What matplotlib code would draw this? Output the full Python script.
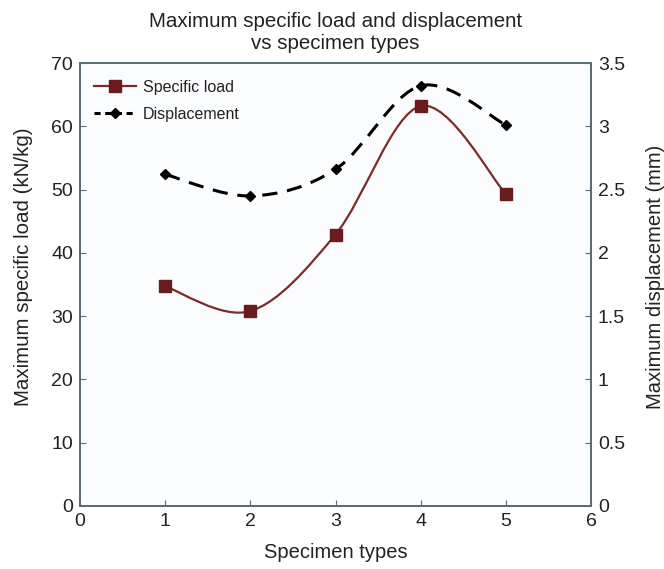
import matplotlib.pyplot as plt
from matplotlib.path import Path
from matplotlib.patches import PathPatch
from matplotlib.lines import Line2D
import numpy as np

plt.rcParams['font.family'] = ['Liberation Sans', 'DejaVu Sans']

specimen = [1, 2, 3, 4, 5]
specific_load = [34.7, 30.8, 42.9, 63.2, 49.3]
displacement = [2.62, 2.45, 2.66, 3.32, 3.01]

load_color = '#7b2b2b'
load_marker = '#6a1c1c'
spine_color = '#5c6a72'


def smooth_path(x, y, t=1 / 6.0):
    # cubic bezier through the points, catmull-rom style control points
    x = np.asarray(x, float)
    y = np.asarray(y, float)
    verts = [(x[0], y[0])]
    codes = [Path.MOVETO]
    n = len(x)
    for i in range(n - 1):
        i0 = max(i - 1, 0)
        i3 = min(i + 2, n - 1)
        c1 = (x[i] + (x[i + 1] - x[i0]) * t, y[i] + (y[i + 1] - y[i0]) * t)
        c2 = (x[i + 1] - (x[i3] - x[i]) * t, y[i + 1] - (y[i3] - y[i]) * t)
        verts += [c1, c2, (x[i + 1], y[i + 1])]
        codes += [Path.CURVE4] * 3
    return Path(verts, codes)


fig = plt.figure(figsize=(6.64, 5.69), dpi=100)
ax = fig.add_axes([80 / 664, 63 / 569, 511 / 664, 443 / 569])
ax.set_facecolor('#fbfcfe')
ax2 = ax.twinx()

ax.add_patch(PathPatch(smooth_path(specimen, specific_load), facecolor='none',
                       edgecolor=load_color, lw=1.6, zorder=3))
ax.plot(specimen, specific_load, ls='none', marker='s', ms=8, color=load_marker, zorder=4)

ax2.add_patch(PathPatch(smooth_path(specimen, displacement), facecolor='none',
                        edgecolor='black', lw=2.2, ls=(0, (5, 3.2)), zorder=3))
ax2.plot(specimen, displacement, ls='none', marker='D', ms=5.5, color='black', zorder=4)

ax.set_xlim(0, 6)
ax.set_ylim(0, 70)
ax2.set_ylim(0, 3.5)
ax.set_xticks(range(0, 7))
ax.set_yticks(range(0, 71, 10))
ax2.set_yticks([0, 0.5, 1, 1.5, 2, 2.5, 3, 3.5])
ax2.set_yticklabels(['0', '0.5', '1', '1.5', '2', '2.5', '3', '3.5'])

for a in (ax, ax2):
    for s in a.spines.values():
        s.set_color(spine_color)
        s.set_linewidth(1.3)
    a.tick_params(direction='in', length=4, color=spine_color, labelsize=14, pad=5,
                  labelcolor='#222222')

ax.set_xlabel('Specimen types', fontsize=14.5, color='#222222')
ax.xaxis.set_label_coords(0.5, -0.084)
ax.set_ylabel('Maximum specific load (kN/kg)', fontsize=14.8, color='#222222')
ax.yaxis.set_label_coords(-0.092, 0.54)
ax2.set_ylabel('Maximum displacement (mm)', fontsize=14.5, rotation=90, color='#222222')
ax2.yaxis.set_label_coords(1.108, 0.517)
ax.set_title('Maximum specific load and displacement\nvs specimen types', fontsize=14.8,
             pad=10, color='#222222')

handles = [
    Line2D([], [], color=load_color, lw=1.6, marker='s', ms=8, mfc=load_marker, mec=load_marker),
    Line2D([], [], color='black', lw=2.2, ls=(0, (2, 1.5)), marker='D', ms=5.5),
]
ax.legend(handles, ['Specific load', 'Displacement'], loc='upper left', frameon=False,
          fontsize=11.5, handlelength=2.6, handletextpad=0.45, labelspacing=0.75,
          bbox_to_anchor=(0.0, 0.995), labelcolor='#222222')

fig.savefig('out.png', dpi=100)
